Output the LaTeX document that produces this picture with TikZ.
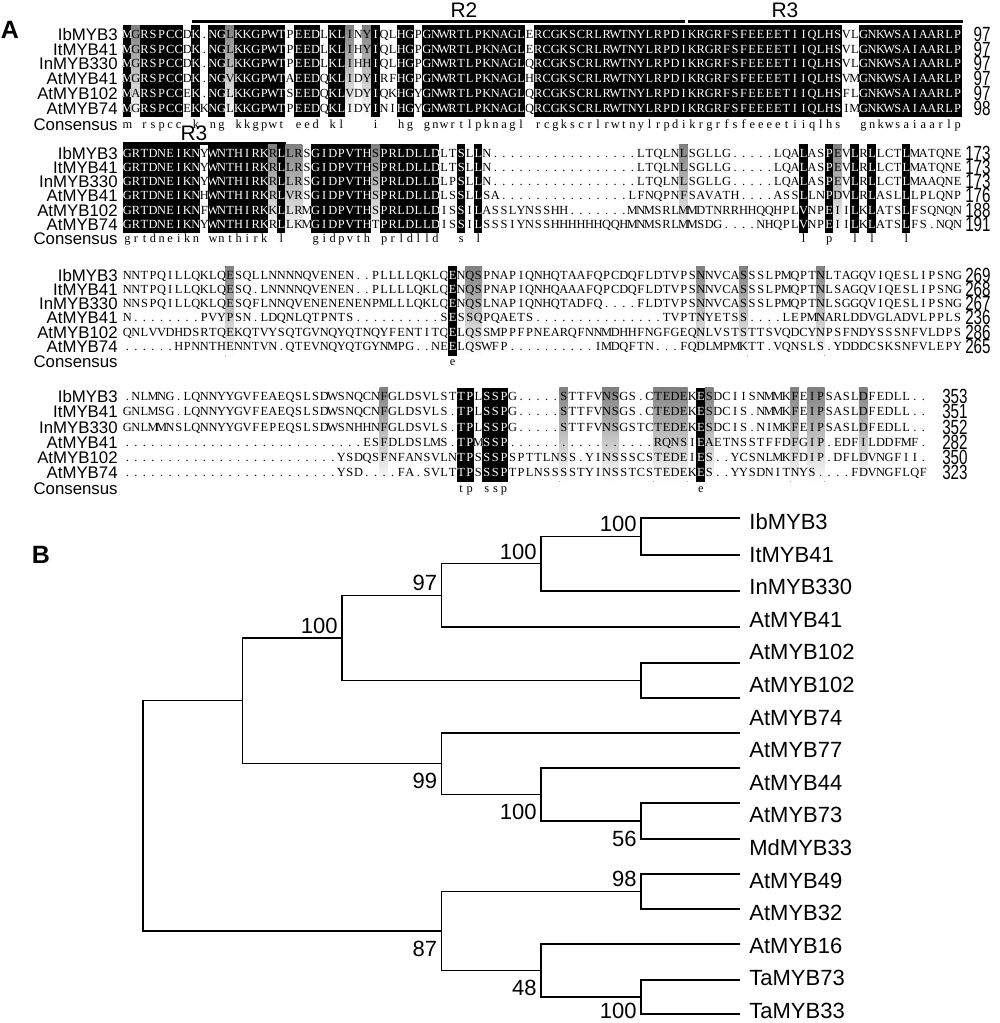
\documentclass[tikz,border=0pt]{standalone}
\usepackage{fontspec}
\usepackage{graphicx}
\usetikzlibrary{calc}
\newfontfamily\seqfont{Liberation Serif}
\newfontfamily\labfont{Liberation Sans}
\definecolor{shade}{RGB}{200,200,200}
\newdimen\ColW \ColW=4.28pt
\def\SeqX{122.7}
\def\SeqW{8.56}
% '-' is an empty column, ':' a gap dot
\def\SqEnd{\SqEnd}
\def\SqPut#1{\hbox to \ColW{\hss\if-#1\else\if:#1.\else#1\fi\fi\hss}}
\def\SqLoop#1{\ifx#1\SqEnd\else\SqPut#1\expandafter\SqLoop\fi}
\newcommand{\SeqRow}[1]{\edef\SqTmp{#1}\expandafter\SqLoop\SqTmp\SqEnd}
% #1 first row y, #2 row step, #3 rows, #4 black columns, #5 grey columns, #6 prefix
\newcommand{\SeqBlock}[6]{%
  \foreach \ca/\cb in {#5}
    \fill[shade] ({\SeqX+(\ca-1)*\SeqW},{#1-9}) rectangle ({\SeqX+\cb*\SeqW},{#1+5*#2+9});
  \foreach \ca/\cb in {#4}
    \fill[black] ({\SeqX+(\ca-1)*\SeqW},{#1-9}) rectangle ({\SeqX+\cb*\SeqW},{#1+5*#2+9});
  \foreach \nm/\sq [count=\ri from 0] in {#3} {
    \node[seqname] (#6n\ri) at (118,{#1+\ri*#2+6}) {\nm};
    \node[seqrow] (#6s\ri) at (\SeqX,{#1+\ri*#2+4}) {\SeqRow{\sq}};
  }
  \begin{scope}
    \clip foreach \ca/\cb in {#4} {({\SeqX+(\ca-1)*\SeqW},{#1-9}) rectangle ({\SeqX+\cb*\SeqW},{#1+5*#2+9})};
    \foreach \nm/\sq [count=\ri from 0] in {#3}
      \node[seqrow,text=white] (#6w\ri) at (\SeqX,{#1+\ri*#2+4}) {\SeqRow{\sq}};
  \end{scope}
}
\tikzset{
    seqrow/.style={anchor=base west, inner sep=0, font={\seqfont\fontsize{6.2}{6.5}\selectfont}},
    seqname/.style={anchor=base east, inner sep=0, font={\labfont\fontsize{8.4}{9}\selectfont}},
    seqnum/.style={anchor=base east, inner sep=0, font={\labfont\fontsize{7.6}{8}\selectfont}},
    motif/.style={line width=1.5pt},
    motiftext/.style={inner sep=0, font={\labfont\fontsize{10.5}{11}\selectfont}},
    taxon/.style={anchor=west, inner sep=0, font={\labfont\fontsize{11}{12}\selectfont}},
    boot/.style={inner sep=0, font={\labfont\fontsize{11}{12}\selectfont}},
    branch/.style={line width=0.65pt},
    panel/.style={inner sep=0, font={\labfont\bfseries\fontsize{12.5}{13}\selectfont}},
}
\begin{document}
\begin{tikzpicture}[x=0.5pt, y=-0.5pt]
    \path[use as bounding box] (0,0) rectangle (1000,1023);

    % A: alignment
    \node[panel] (pA) at (10,30) {A};

    \coordinate (r2a) at (192,21.7);
    \coordinate (r2b) at (685,21.7);
    \coordinate (r3a) at (688,21.7);
    \coordinate (r3b) at (963,21.7);
    \coordinate (r3c) at (122.7,143.3);
    \coordinate (r3d) at (286,143.3);
    \draw[motif] (r2a) -- (r2b);
    \draw[motif] (r3a) -- (r3b);
    \draw[motif] (r3c) -- (r3d);
    \node[motiftext] (R2) at (464,10) {R2};
    \node[motiftext] (R3) at (785,10) {R3};
    \node[motiftext] (R3b) at (194,133) {R3};

    \SeqBlock{34.3}{14.8}{%
      IbMYB3/MGRSPCCDK:NGLKKGPWTPEEDLKLINYIQLHGPGNWRTLPKNAGLERCGKSCRLRWTNYLRPDIKRGRFSFEEEETIIQLHSVLGNKWSAIAARLP,
      ItMYB41/MGRSPCCDK:NGLKKGPWTPEEDLKLIHYIQLHGPGNWRTLPKNAGLERCGKSCRLRWTNYLRPDIKRGRFSFEEEETIIQLHSVLGNKWSAIAARLP,
      InMYB330/MGRSPCCDK:NGLKKGPWTPEEDLKLIHHIQLHGPGNWRTLPKNAGLQRCGKSCRLRWTNYLRPDIKRGRFSFEEEETIIQLHSVLGNKWSAIAARLP,
      AtMYB41/MGRSPCCDK:NGVKKGPWTAEEDQKLIDYIRFHGPGNWRTLPKNAGLHRCGKSCRLRWTNYLRPDIKRGRFSFEEEETIIQLHSVMGNKWSAIAARLP,
      AtMYB102/MARSPCCEK:NGLKKGPWTSEEDQKLVDYIQKHGYGNWRTLPKNAGLQRCGKSCRLRWTNYLRPDIKRGRFSFEEEETIIQLHSFLGNKWSAIAARLP,
      AtMYB74/MGRSPCCEKKNGLKKGPWTPEEDQKLIDYINIHGYGNWRTLPKNAGLQRCGKSCRLRWTNYLRPDIKRGRFSFEEEETIIQLHSIMGNKWSAIAARLP}%
      {1/1,3/7,9/9,11/12,14/19,21/23,25/26,30/30,33/34,36/47,49/84,87/98}%
      {2/2,13/13,27/27,29/29}{a}
    \node[seqname] (aCn) at (118,130) {Consensus};
    \node[seqrow] (aCs) at (\SeqX,128) {\SeqRow{m-rspcc-k-ng-kkgpwt-eed-kl---i--hg-gnwrtlpknagl-rcgkscrlrwtnylrpdikrgrfsfeeeetiiqlhs--gnkwsaiaarlp}};
    \foreach \v [count=\ri from 0] in {97,97,97,97,97,98}
      \node[seqnum] (aN\ri) at (991,{34.3+\ri*14.8+7}) {\scalebox{1}[1.35]{\v}};

    \SeqBlock{153.3}{14.2}{%
      IbMYB3/GRTDNEIKNYWNTHIRKRLLRSGIDPVTHSPRLDLLDLTSLLN:::::::::::::::::LTQLNLSGLLG:::::LQALASPEVLRLLCTLMATQNE,
      ItMYB41/GRTDNEIKNYWNTHIRKRLLRSGIDPVTHSPRLDLLDLTSLLN:::::::::::::::::LTQLNLSGLLG:::::LQALASPEVLRLLCTLMATQNE,
      InMYB330/GRTDNEIKNYWNTHIRKRLLRSGIDPVTHSPRLDLLDLPSLLN:::::::::::::::::LTQLNLSGLLG:::::LQALASPEVLRLLCTLMAAQNE,
      AtMYB41/GRTDNEIKNHWNTHIRKRLVRSGIDPVTHSPRLDLLDLSSLLSA:::::::::::::::LFNQPNFSAVATH::::ASSLLNPDVLRLASLLLPLQNP,
      AtMYB102/GRTDNEIKNFWNTHIRKKLLRMGIDPVTHSPRLDLLDISSILASSLYNSSHH:::::::MNMSRLMMDTNRRHHQQHPLVNPEIILKLATSLFSQNQN,
      AtMYB74/GRTDNEIKNYWNTHIRKRLLKMGIDPVTHTPRLDLLDISSILSSSIYNSSHHHHHHQQHMNMSRLMMSDG::::NHQPLVNPEIILKLATSLFS:NQN}%
      {1/9,11/17,19/19,23/29,31/37,40/40,42/42,80/80,83/83,86/86,88/88,92/92}%
      {18/18,20/21,30/30,66/66,84/84}{b}
    \node[seqname] (bCn) at (118,244.5) {Consensus};
    \node[seqrow] (bCs) at (\SeqX,242.5) {\SeqRow{grtdneikn-wnthirk-l---gidpvth-prldlld--s-l-------------------------------------l--p--l-l---l------}};
    \foreach \v [count=\ri from 0] in {173,173,173,176,188,191}
      \node[seqnum] (bN\ri) at (991,{153.3+\ri*14.2+7}) {\scalebox{1}[1.35]{\v}};

    \SeqBlock{275}{14.3}{%
      IbMYB3/NNTPQILLQKLQESQLLNNNNQVENEN::PLLLLQKLQENQSPNAPIQNHQTAAFQPCDQFLDTVPSNNVCASSSLPMQPTNLTAGQVIQESLIPSNG,
      ItMYB41/NNTPQILLQKLQESQ:LNNNNQVENEN::PLLLLQKLQENQSPNAPIQNHQAAAFQPCDQFLDTVPSNNVCASSSLPMQPTNLSAGQVIQESLIPSNG,
      InMYB330/NNSPQILLQKLQESQFLNNQVENENENENPMLLLQKLQENQSLNAPIQNHQTADFQ::::FLDTVPSNNVCASSSLPMQPTNLSGGQVIQESLIPSNG,
      AtMYB41/N::::::::PVYPSN:LDQNLQTPNTS::::::::::SESSQPQAETS:::::::::::::::TVPTNYETSS::::LEPMNARLDDVGLADVLPPLS,
      AtMYB102/QNLVVDHDSRTQEKQTVYSQTGVNQYQTNQYFENTITQELQSSMPPFPNEARQFNNMDHHFNGFGEQNLVSTSTTSVQDCYNPSFNDYSSSNFVLDPS,
      AtMYB74/::::::HPNNTHENNTVN:QTEVNQYQTGYNMPG::NEELQSWFP::::::::::IMDQFTN:::FQDLMPMKTT:VQNSLS:YDDDCSKSNFVLEPY}%
      {39/39}%
      {13/13,41/42,68/68,73/73,82/82}{c}
    \node[seqname] (cCn) at (118,367) {Consensus};
    \node[seqrow] (cCs) at (\SeqX,365) {\SeqRow{--------------------------------------e}};
    \foreach \v [count=\ri from 0] in {269,268,267,236,286,265}
      \node[seqnum] (cN\ri) at (991,{275+\ri*14.3+7}) {\scalebox{1}[1.35]{\v}};

    \SeqBlock{396.7}{15.2}{%
      IbMYB3/:NLMNG:LQNNYYGVFEAEQSLSDWSNQCNFGLDSVLSTTPLSSPG:::::STTFVNSGS:CTEDEKESDCIISNMMKFEIPSASLDFEDLL::,
      ItMYB41/GNLMSG:LQNNYYGVFEAEQSLSDWSNQCNFGLDSVLS:TPLSSPG:::::STTFVNSGS:CTEDEKESDCIS:NMMKFEIPSASLDFEDLL::,
      InMYB330/GNLMMNSLQNNYYGVFEPEQSLSDWSNHHNFGLDSVLS:TPLSSPG:::::STTFVNSGSTCTEDEKESDCIS:NIMKFEIPSASLDFEDLL::,
      AtMYB41/::::::::::::::::::::::::::::ESFDLDSLMS:TPMSSP:::::::::::::::::RQNSIEAETNSSTFFDFGIP:EDFILDDFMF:,
      AtMYB102/:::::::::::::::::::::::::YSDQSFNFANSVLNTPSSSPSPTTLNSS:YINSSSCSTEDEIES::YCSNLMKFDIP:DFLDVNGFII:,
      AtMYB74/:::::::::::::::::::::::::YSD::::FA:SVLTTPSSSPTPLNSSSSTYINSSTCSTEDEKES::YYSDNITNYS::::FDVNGFLQF}%
      {40/41,43/45,68/68}%
      {31/31,52/52,57/58,63/66,69/69,79/79,81/82,87/87}{d}
    \node[seqname] (dCn) at (118,494) {Consensus};
    \node[seqrow] (dCs) at (\SeqX,492) {\SeqRow{---------------------------------------tp-ssp----------------------e}};
    \foreach \v [count=\ri from 0] in {353,351,352,282,350,323}
      \node[seqnum] (dN\ri) at (968,{396.7+\ri*15.2+7}) {\scalebox{1}[1.35]{\v}};

    % B: tree
    \node[panel] (pB) at (41,555) {B};

    \foreach \y [count=\k from 0] in {518,555,591,627,663,698,733,768,803,839,874,909,944,980,1014}
      \coordinate (t\k) at (740,\y);
    \foreach \nm [count=\j from 0] in {IbMYB3,ItMYB41,InMYB330,AtMYB41,AtMYB102,AtMYB102,AtMYB74,AtMYB77,
        AtMYB44,AtMYB73,MdMYB33,AtMYB49,AtMYB32,AtMYB16,TaMYB73,TaMYB33}
      \node[taxon] (lab\j) at (749,{522+\j*32.6}) {\nm};

    \coordinate (E) at (641,536.5);
    \coordinate (D) at (541,563.75);
    \coordinate (C) at (441.5,595.4);
    \coordinate (P) at (641,680.5);
    \coordinate (B) at (342,637.9);
    \coordinate (H) at (641,821);
    \coordinate (G) at (541,794.5);
    \coordinate (F) at (441.5,763.75);
    \coordinate (A) at (242.5,700.8);
    \coordinate (I) at (641,891.5);
    \coordinate (J) at (641,997);
    \coordinate (K) at (541,970.5);
    \coordinate (Lc) at (441.5,931);
    \coordinate (R) at (143,816);

    \draw[branch] (E) |- (t0) (E) |- (t1);
    \draw[branch] (D) |- (E) (D) |- (t2);
    \draw[branch] (C) |- (D) (C) |- (t3);
    \draw[branch] (P) |- (t4) (P) |- (t5);
    \draw[branch] (B) |- (C) (B) |- (P);
    \draw[branch] (H) |- (t8) (H) |- (t9);
    \draw[branch] (G) |- (t7) (G) |- (H);
    \draw[branch] (F) |- (t6) (F) |- (G);
    \draw[branch] (A) |- (B) (A) |- (F);
    \draw[branch] (I) |- (t10) (I) |- (t11);
    \draw[branch] (J) |- (t13) (J) |- (t14);
    \draw[branch] (K) |- (t12) (K) |- (J);
    \draw[branch] (Lc) |- (I) (Lc) |- (K);
    \draw[branch] (R) |- (A) (R) |- (Lc);

    \node[boot, anchor=south east] (bE) at ($(E)+(-4,-4)$) {100};
    \node[boot, anchor=south east] (bD) at ($(D)+(-4,-4)$) {100};
    \node[boot, anchor=south east] (bC) at ($(C)+(-4,-4)$) {97};
    \node[boot, anchor=south east] (bB) at ($(B)+(-4,-4)$) {100};
    \node[boot, anchor=south east] (bI) at ($(I)+(-4,-4)$) {98};
    \node[boot, anchor=north east] (bF) at ($(F)+(-4,9)$) {99};
    \node[boot, anchor=north east] (bG) at ($(G)+(-4,9)$) {100};
    \node[boot, anchor=north east] (bH) at ($(H)+(-4,10)$) {56};
    \node[boot, anchor=north east] (bL) at ($(Lc)+(-4,10)$) {87};
    \node[boot, anchor=north east] (bK) at ($(K)+(-4,9)$) {48};
    \node[boot, anchor=north east] (bJ) at ($(J)+(-4,6)$) {100};
\end{tikzpicture}
\end{document}
